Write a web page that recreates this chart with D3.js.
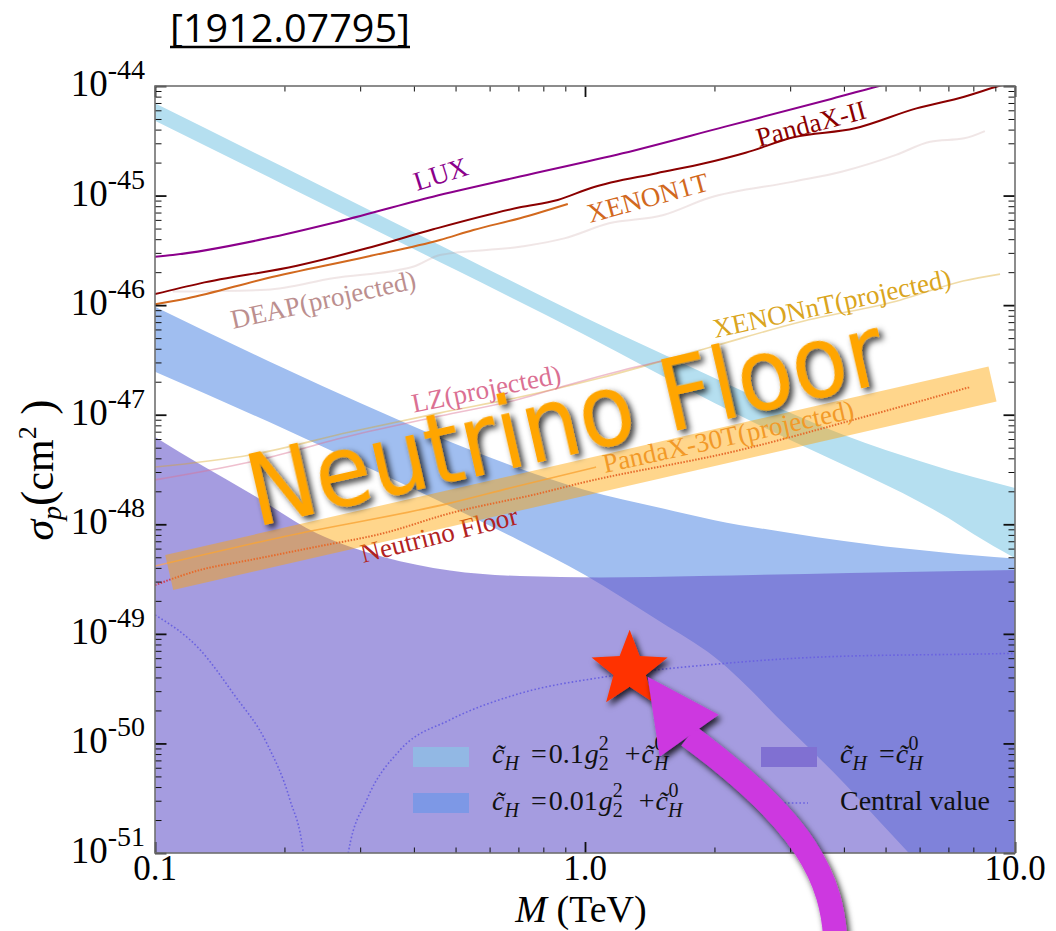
<!DOCTYPE html>
<html>
<head>
<meta charset="utf-8">
<script src="https://cdn.jsdelivr.net/npm/d3@7"></script>
<style>
  html, body { margin: 0; padding: 0; background: #ffffff; }
  svg { display: block; }
</style>
</head>
<body>
<svg id="chart" width="1056" height="931"></svg>
<script>
// ---------------- axes ----------------
const massDomain = [0.1, 10];          // TeV
const sigmaDomain = [1e-51, 1e-44];    // cm^2
const massTickValues = [0.1, 1, 10];
const massTickLabels = ["0.1", "1.0", "10.0"];
const sigmaTickExponents = [-51, -50, -49, -48, -47, -46, -45, -44];

// ---------------- theory bands ----------------
// c_H = 0.1 g2^2 + c_H^0
const lightBlueM    = [0.1, 0.2, 0.3, 0.5, 1, 2, 3, 4, 5, 6, 7, 8, 10];
const lightBlueHigh = [6.95e-45, 1.80e-45, 8.12e-46, 2.99e-46, 7.71e-47, 2.16e-47, 1.04e-47, 6.53e-48, 4.76e-48, 3.78e-48, 3.13e-48, 2.70e-48, 2.14e-48];
const lightBlueLow  = [4.82e-45, 1.25e-45, 5.68e-46, 2.10e-46, 5.34e-47, 1.28e-47, 5.87e-48, 3.48e-48, 2.29e-48, 1.60e-48, 1.14e-48, 8.15e-49, 4.90e-49];

// c_H = 0.01 g2^2 + c_H^0
const midBlueM    = [0.1, 0.2, 0.3, 0.5, 0.7, 1, 1.5, 2, 3, 4, 5, 6, 7, 8, 10];
const midBlueHigh = [9.68e-47, 2.64e-47, 1.28e-47, 5.41e-48, 3.27e-48, 2.06e-48, 1.41e-48, 1.09e-48, 8.32e-49, 7.03e-49, 6.27e-49, 5.82e-49, 5.47e-49, 5.21e-49, 4.88e-49];
const midBlueLow  = [2.47e-47, 7.41e-48, 3.55e-48, 1.38e-48, 7.19e-49, 3.44e-49, 1.28e-49, 6.15e-50, 1.33e-50, 4.36e-51, 1.69e-51, 7.76e-52, 3.72e-52, 2.2e-52, 7.8e-53];

// c_H = c_H^0 (band reaches down to zero)
const purpleM    = [0.1, 0.1293, 0.1664, 0.2377, 0.3396, 0.4853, 0.706, 1.084, 1.851, 4.13, 10];
const purpleHigh = [6.27e-48, 3.40e-48, 1.92e-48, 8.28e-49, 5.03e-49, 3.79e-49, 3.37e-49, 3.27e-49, 3.37e-49, 3.59e-49, 3.83e-49];

// central value (vanishes near M ~ 0.25 TeV)
const centralLeftM      = [0.1, 0.1274, 0.152, 0.182, 0.206, 0.2213, 0.228];
const centralLeftSigma  = [1.49e-49, 7.13e-50, 2.86e-50, 1.0e-50, 3.05e-51, 9.93e-52, 3e-52];
const centralRightM     = [0.278, 0.2814, 0.3107, 0.3715, 0.4853, 0.706, 1.116, 2.118, 3.66, 9.86, 10];
const centralRightSigma = [3e-52, 9.93e-52, 3.05e-51, 8.71e-51, 1.64e-50, 2.86e-50, 4.06e-50, 5.38e-50, 6.18e-50, 6.64e-50, 6.65e-50];

// ---------------- experimental limits ----------------
const luxM     = [0.1, 0.110, 0.182, 0.259, 0.443, 0.706, 1.223, 2.118, 3.66, 4.83, 10];
const luxSigma = [2.77e-46, 2.87e-46, 4.07e-46, 5.62e-46, 9.77e-46, 1.49e-45, 2.43e-45, 4.26e-45, 7.45e-45, 1.0e-44, 1.9e-44];

const pandaxIIM     = [0.1, 0.1274, 0.2138, 0.3107, 0.4437, 0.706, 0.864, 1.037, 1.469, 1.897, 2.363, 3.055, 4.246, 5.90, 7.62, 9.16, 10];
const pandaxIISigma = [1.26e-46, 1.58e-46, 2.29e-46, 3.30e-46, 4.92e-46, 7.81e-46, 9.12e-46, 1.18e-45, 1.60e-45, 1.97e-45, 2.46e-45, 3.40e-45, 4.11e-45, 6.25e-45, 7.98e-45, 1.0e-44, 1.1e-44];

const xenon1tM     = [0.1, 0.1185, 0.182, 0.3107, 0.460, 0.550, 0.706, 0.912];
const xenon1tSigma = [1.02e-46, 1.15e-46, 1.76e-46, 2.77e-46, 3.93e-46, 4.85e-46, 6.21e-46, 8.37e-46];

const deapM     = [0.110, 0.182, 0.259, 0.398, 0.460, 0.706, 0.895, 1.137, 1.523, 1.932, 3.055, 3.95, 5.29, 6.35, 7.62, 8.51];
const deapSigma = [1.33e-46, 1.38e-46, 1.76e-46, 2.24e-46, 2.87e-46, 3.41e-46, 4.07e-46, 5.58e-46, 6.65e-46, 9.45e-46, 1.34e-45, 1.65e-45, 2.35e-45, 3.10e-45, 3.33e-45, 3.88e-45];

const xenonntM     = [0.1, 0.1664, 0.284, 0.460, 0.706, 1.084, 1.963, 3.162, 5.40, 7.57, 9.23];
const xenonntSigma = [3.33e-48, 4.29e-48, 6.95e-48, 1.04e-47, 1.45e-47, 2.16e-47, 4.15e-47, 7.02e-47, 1.11e-46, 1.66e-46, 1.92e-46];

const lzM     = [0.1, 0.1664, 0.284, 0.460, 0.706, 0.913, 1.206, 1.663];
const lzSigma = [2.54e-48, 3.70e-48, 6.39e-48, 9.72e-48, 1.39e-47, 1.87e-47, 2.51e-47, 3.36e-47];

const pandax30tM     = [0.1, 0.1988, 0.4853, 0.669, 1.061];
const pandax30tSigma = [4.16e-49, 7.71e-49, 1.56e-48, 2.14e-48, 3.33e-48];

const nuFloorM     = [0.1, 0.1274, 0.1664, 0.2377, 0.3396, 0.4853, 0.786, 0.974, 2.294, 4.36, 7.86];
const nuFloorSigma = [2.79e-49, 3.83e-49, 4.72e-49, 6.24e-49, 8.28e-49, 1.26e-48, 1.92e-48, 2.37e-48, 4.76e-48, 9.33e-48, 1.79e-47];

// curve labels: text, anchor (M, sigma), baseline angle
const curveLabelText  = ["LUX", "PandaX-II", "XENON1T", "DEAP(projected)", "LZ(projected)", "XENONnT(projected)", "PandaX-30T(projected)", "Neutrino Floor"];
const curveLabelM     = [0.4067, 2.54, 1.027, 0.1518, 0.400, 2.006, 1.113, 0.3046];
const curveLabelSigma = [1.10e-45, 2.77e-45, 5.62e-46, 6.05e-47, 1.04e-47, 5.01e-47, 2.94e-48, 4.44e-49];
const curveLabelAngle = [-17.4, -15, -15.3, -12.5, -11.5, -12.2, -12.4, -14];
const curveLabelColor = ["#8B008B", "#8B0000", "#D2691E", "#BC8F8F", "#DB7093", "#DAA520", "#E8914A", "#B22222"];

// highlighted benchmark point
const starM = 1.27, starSigma = 4.7e-50;
// neutrino-floor highlight strip ends
const stripM = [0.1079, 8.867];
const stripSigma = [3.63e-49, 1.91e-47];

// ---------------- layout ----------------
const plot = { left: 155, right: 1015, top: 86, bottom: 853 };
const x = d3.scaleLog().domain(massDomain).range([plot.left, plot.right]);
const y = d3.scaleLog().domain(sigmaDomain).range([plot.bottom, plot.top]);

const svg = d3.select("#chart");
const defs = svg.append("defs");
defs.append("clipPath").attr("id", "plotClip")
  .append("rect").attr("x", plot.left).attr("y", plot.top)
  .attr("width", plot.right - plot.left).attr("height", plot.bottom - plot.top);
const f = defs.append("filter").attr("id", "dropShadow")
  .attr("x", "-30%").attr("y", "-30%").attr("width", "160%").attr("height", "160%");
f.append("feDropShadow").attr("dx", 3).attr("dy", 4).attr("stdDeviation", 3)
  .attr("flood-color", "#000").attr("flood-opacity", 0.8);

const zip = (a, b) => a.map((v, i) => [v, b[i]]);
const line = d3.line().x(d => x(d[0])).y(d => y(d[1])).curve(d3.curveMonotoneX);
const area = d3.area().x(d => x(d.m)).y0(d => y(d.lo)).y1(d => y(d.hi)).curve(d3.curveMonotoneX);

const plotG = svg.append("g").attr("clip-path", "url(#plotClip)");

// bands
plotG.append("path")
  .datum(midBlueM.map((m, i) => ({ m, lo: midBlueLow[i], hi: midBlueHigh[i] })))
  .attr("d", area).attr("fill", "#A0BEF0");
plotG.append("path")
  .datum(lightBlueM.map((m, i) => ({ m, lo: lightBlueLow[i], hi: lightBlueHigh[i] })))
  .attr("d", area).attr("fill", "#B5DFF0");
plotG.append("path")
  .datum(purpleM.map((m, i) => ({ m, lo: sigmaDomain[0] / 10, hi: purpleHigh[i] })))
  .attr("d", area).attr("fill", "rgb(105,90,203)").attr("fill-opacity", 0.6);

// central value
[zip(centralLeftM, centralLeftSigma), zip(centralRightM, centralRightSigma)].forEach(pts => {
  plotG.append("path").datum(pts).attr("d", line)
    .attr("fill", "none").attr("stroke", "#6A62E0").attr("stroke-width", 1.6)
    .attr("stroke-dasharray", "1.6,2.2");
});

// limit curves
const curves = [
  { m: deapM, s: deapSigma, color: "#BC8F8F", w: 2, op: 0.22 },
  { m: xenonntM, s: xenonntSigma, color: "#DAA520", w: 1.6, op: 0.4 },
  { m: lzM, s: lzSigma, color: "#DB7093", w: 1.6, op: 0.45 },
  { m: pandax30tM, s: pandax30tSigma, color: "#F4A460", w: 1.6, op: 0.8 },
  { m: luxM, s: luxSigma, color: "#8B008B", w: 2, op: 1 },
  { m: pandaxIIM, s: pandaxIISigma, color: "#8B0000", w: 2, op: 1 },
  { m: xenon1tM, s: xenon1tSigma, color: "#D2691E", w: 2, op: 1 }
];
curves.forEach(c => {
  plotG.append("path").datum(zip(c.m, c.s)).attr("d", line)
    .attr("fill", "none").attr("stroke", c.color).attr("stroke-width", c.w)
    .attr("stroke-opacity", c.op);
});
plotG.append("path").datum(zip(nuFloorM, nuFloorSigma)).attr("d", line)
  .attr("fill", "none").attr("stroke", "#D23C50").attr("stroke-width", 2)
  .attr("stroke-dasharray", "1.5,1.5");

// curve labels
curveLabelText.forEach((t, i) => {
  const px = x(curveLabelM[i]), py = y(curveLabelSigma[i]);
  plotG.append("text")
    .attr("x", px).attr("y", py)
    .attr("transform", `rotate(${curveLabelAngle[i]},${px},${py})`)
    .attr("font-family", "'Liberation Serif', 'Times New Roman', serif")
    .attr("font-size", 27).attr("fill", curveLabelColor[i])
    .text(t);
});

// ---------------- frame & ticks ----------------
const axesG = svg.append("g");
const minorMass = [2, 3, 4, 5, 6, 7, 8, 9].flatMap(k => [k * 0.1, k * 1]);
const minorSigma = d3.range(-51, -44).flatMap(e => [2, 3, 4, 5, 6, 7, 8, 9].map(k => k * Math.pow(10, e)));
const majorSigma = sigmaTickExponents.map(e => Math.pow(10, e));

function drawAxis(axisFn, scale, values, size, transform, width) {
  const g = axesG.append("g").attr("transform", transform)
    .call(axisFn(scale).tickValues(values).tickSize(-size).tickFormat(""));
  g.select(".domain").remove();
  g.selectAll(".tick line").attr("stroke", "#111").attr("stroke-width", width);
}
drawAxis(d3.axisBottom, x, massTickValues, 11, `translate(0,${plot.bottom})`, 1.8);
drawAxis(d3.axisBottom, x, minorMass, 5.5, `translate(0,${plot.bottom})`, 1);
drawAxis(d3.axisTop, x, massTickValues, 11, `translate(0,${plot.top})`, 1.8);
drawAxis(d3.axisTop, x, minorMass, 5.5, `translate(0,${plot.top})`, 1);
drawAxis(d3.axisLeft, y, majorSigma, 11.5, `translate(${plot.left},0)`, 1.8);
drawAxis(d3.axisLeft, y, minorSigma, 6.5, `translate(${plot.left},0)`, 1);
drawAxis(d3.axisRight, y, majorSigma, 11.5, `translate(${plot.right},0)`, 1.8);
drawAxis(d3.axisRight, y, minorSigma, 6.5, `translate(${plot.right},0)`, 1);

axesG.append("rect")
  .attr("x", plot.left).attr("y", plot.top)
  .attr("width", plot.right - plot.left).attr("height", plot.bottom - plot.top)
  .attr("fill", "none").attr("stroke", "#707070").attr("stroke-width", 1.6);

const serif = "'Liberation Serif', 'Times New Roman', serif";

// y tick labels 10^-n
sigmaTickExponents.forEach(e => {
  const t = axesG.append("text")
    .attr("x", plot.left - 10).attr("y", y(Math.pow(10, e)) + 10)
    .attr("text-anchor", "end").attr("font-family", serif).attr("fill", "#000");
  t.append("tspan").attr("font-size", 37).text("10");
  t.append("tspan").attr("font-size", 28).attr("dy", -17).text("-" + Math.abs(e));
});

// x tick labels
massTickValues.forEach((v, i) => {
  axesG.append("text")
    .attr("x", x(v)).attr("y", plot.bottom + 27)
    .attr("text-anchor", "middle").attr("font-family", serif).attr("font-size", 35)
    .attr("fill", "#000").text(massTickLabels[i]);
});

// axis titles
const xt = axesG.append("text")
  .attr("x", (plot.left + plot.right) / 2 - 4).attr("y", 922)
  .attr("text-anchor", "middle").attr("font-family", serif).attr("font-size", 38).attr("fill", "#000");
xt.append("tspan").attr("font-style", "italic").text("M");
xt.append("tspan").text(" (TeV)");

const yt = axesG.append("text")
  .attr("transform", "translate(53,470) rotate(-90)")
  .attr("text-anchor", "middle").attr("font-family", serif).attr("font-size", 42).attr("fill", "#000");
yt.append("tspan").attr("font-style", "italic").text("σ");
yt.append("tspan").attr("font-style", "italic").attr("font-size", 28).attr("dy", 8).text("p");
yt.append("tspan").attr("dy", -8).attr("font-size", 46).text("(");
yt.append("tspan").text("cm");
yt.append("tspan").attr("font-size", 26).attr("dy", -17).text("2");
yt.append("tspan").attr("dy", 17).attr("font-size", 46).text(" )");

// header reference
svg.append("text")
  .attr("x", 170).attr("y", 42)
  .attr("font-family", "'Open Sans', 'DejaVu Sans', sans-serif").attr("font-size", 38)
  .attr("textLength", 240).attr("lengthAdjust", "spacingAndGlyphs")
  .attr("fill", "#000").text("[1912.07795]");
svg.append("line").attr("x1", 170).attr("x2", 410).attr("y1", 47).attr("y2", 47)
  .attr("stroke", "#000").attr("stroke-width", 2.5);

// ---------------- legend ----------------
const legend = svg.append("g").attr("font-family", serif).attr("fill", "#111");
const legendSwatches = [
  { x: 413, y: 747, color: "#92B8E4" },
  { x: 413, y: 793, color: "#7D98E6" },
  { x: 761, y: 747, color: "#8070D2" }
];
legendSwatches.forEach(s => {
  legend.append("rect").attr("x", s.x).attr("y", s.y).attr("width", 56).attr("height", 20).attr("fill", s.color);
});
legend.append("line").attr("x1", 769).attr("x2", 808).attr("y1", 803).attr("y2", 803)
  .attr("stroke", "#6A62E0").attr("stroke-width", 1.6).attr("stroke-dasharray", "1.6,2.2");

function mathText(px, py, parts) {
  const t = legend.append("text").attr("x", px).attr("y", py).attr("font-size", 28);
  parts.forEach(p => {
    const s = t.append("tspan").text(p.t);
    if (p.i) s.attr("font-style", "italic");
    if (p.fs) s.attr("font-size", p.fs);
    if (p.dx) s.attr("dx", p.dx);
    if (p.dy) s.attr("dy", p.dy);
  });
}
const cH = [{ t: "c\u0303", i: 1 }, { t: "H", i: 1, fs: 20, dy: 7 }];
const cH0 = [{ t: "c\u0303", i: 1, dx: 1 }, { t: "H", i: 1, fs: 20, dy: 7 }, { t: "0", fs: 20, dx: -14, dy: -20 }];
const g22 = [{ t: "g", i: 1, dx: 1 }, { t: "2", fs: 20, dy: 7 }, { t: "2", fs: 20, dx: -10, dy: -20 }];
mathText(492, 763, [...cH, { t: "=", dx: 12, dy: -7 }, { t: "0.1", dx: 2 }, ...g22, { t: "+", dx: 16, dy: 13 }, ...cH0]);
mathText(492, 810, [...cH, { t: "=", dx: 12, dy: -7 }, { t: "0.01", dx: 2 }, ...g22, { t: "+", dx: 16, dy: 13 }, ...cH0]);
mathText(840, 763, [...cH, { t: "=", dx: 12, dy: -7 }, ...cH0]);
legend.append("text").attr("x", 840).attr("y", 810).attr("font-size", 28).text("Central value");

// ---------------- highlight overlay ----------------
const over = svg.append("g");
const sp = stripM.map((m, i) => [x(m), y(stripSigma[i])]);
over.append("line")
  .attr("x1", sp[0][0]).attr("y1", sp[0][1]).attr("x2", sp[1][0]).attr("y2", sp[1][1])
  .attr("stroke", "#FFA500").attr("stroke-opacity", 0.45).attr("stroke-width", 36);

const ang = Math.atan2(sp[1][1] - sp[0][1], sp[1][0] - sp[0][0]) * 180 / Math.PI;
const titleM = 0.1718, titleSigma = 9.44e-49;
over.append("text")
  .attr("transform", `translate(${x(titleM)},${y(titleSigma)}) rotate(${ang})`)
  .attr("font-family", "'DejaVu Sans', Verdana, sans-serif").attr("font-size", 100)
  .attr("textLength", 650).attr("lengthAdjust", "spacingAndGlyphs")
  .attr("fill", "#FFA500").attr("filter", "url(#dropShadow)")
  .text("Neutrino Floor");

// star marker
const sx = x(starM), sy = y(starSigma), R = 40, r = 17;
const starPts = d3.range(10).map(k => {
  const a = -Math.PI / 2 + k * Math.PI / 5, rr = k % 2 ? r : R;
  return [sx + rr * Math.cos(a), sy + rr * Math.sin(a)];
});
over.append("path").attr("d", "M" + starPts.join("L") + "Z")
  .attr("fill", "#FF3300").attr("filter", "url(#dropShadow)");

// arrow pointing at the star
const tip = [sx + 18, sy + 7];
const arrow = over.append("g").attr("filter", "url(#dropShadow)");
const base = [tip[0] + 41, tip[1] + 59];
arrow.append("path")
  .attr("d", `M${tip[0] + 188},${tip[1] + 270} C${tip[0] + 186},${tip[1] + 200} ${tip[0] + 157},${tip[1] + 145} ${base[0]},${base[1]}`)
  .attr("fill", "none").attr("stroke", "#CD37E0").attr("stroke-width", 24);
arrow.append("path")
  .attr("d", `M${tip[0]},${tip[1]} L${tip[0] + 71},${tip[1] + 38} L${tip[0] + 12},${tip[1] + 80} Z`)
  .attr("fill", "#CD37E0");
</script>
</body>
</html>
